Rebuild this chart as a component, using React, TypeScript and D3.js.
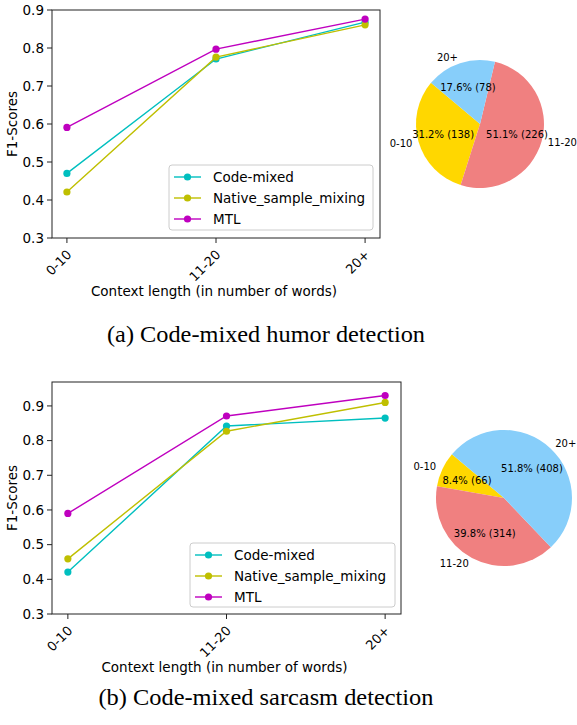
import React from "react";
import * as d3 from "d3";

const categories = ["0-10", "11-20", "20+"];
const seriesNames = ["Code-mixed", "Native_sample_mixing", "MTL"];
const seriesColors = ["#00bfbf", "#bfbf00", "#bf00bf"];

// humor detection F1
const humorCodeMixed = [0.47, 0.771, 0.868];
const humorNative = [0.421, 0.776, 0.861];
const humorMTL = [0.591, 0.797, 0.876];
const humorCounts = [138, 226, 78];

// sarcasm detection F1
const sarcCodeMixed = [0.421, 0.842, 0.865];
const sarcNative = [0.459, 0.827, 0.91];
const sarcMTL = [0.59, 0.871, 0.93];
const sarcCounts = [66, 314, 408];

const yTicks = [0.3, 0.4, 0.5, 0.6, 0.7, 0.8, 0.9];
const pieColors = ["gold", "lightcoral", "lightskyblue"];
const FONT = "DejaVu Sans, sans-serif";

type LineProps = {
  left: number; right: number; top: number; bottom: number;
  yMax: number; series: number[][]; legend: { x: number; y: number; w: number; h: number };
};

function LinePanel({ left, right, top, bottom, yMax, series, legend }: LineProps) {
  const x = d3.scaleLinear().domain([-0.1, 2.1]).range([left, right]);
  const y = d3.scaleLinear().domain([0.3, yMax]).range([bottom, top]);
  const line = d3.line<number>().x((_, i) => x(i)).y((d) => y(d));
  const rowGap = 21;
  return (
    <g fontFamily={FONT}>
      {series.map((s, k) => (
        <g key={k}>
          <path d={line(s) || ""} fill="none" stroke={seriesColors[k]} strokeWidth={1.4} />
          {s.map((v, i) => (
            <circle key={i} cx={x(i)} cy={y(v)} r={3.6} fill={seriesColors[k]} />
          ))}
        </g>
      ))}
      <rect x={left} y={top} width={right - left} height={bottom - top} fill="none" stroke="#222" strokeWidth={1} />
      {yTicks.map((t) => (
        <g key={t}>
          <line x1={left - 5} x2={left} y1={y(t)} y2={y(t)} stroke="#222" />
          <text x={left - 8} y={y(t)} dy="0.35em" textAnchor="end" fontSize={13.5}>{t.toFixed(1)}</text>
        </g>
      ))}
      {categories.map((c, i) => (
        <g key={c}>
          <line x1={x(i)} x2={x(i)} y1={bottom} y2={bottom + 5} stroke="#222" />
          <text transform={`translate(${x(i) - 1},${bottom + 11}) rotate(-45)`} textAnchor="end" dy="0.7em" fontSize={13}>{c}</text>
        </g>
      ))}
      <text x={(left + right) / 2 - 2} y={bottom + 58} textAnchor="middle" fontSize={13.5}>Context length (in number of words)</text>
      <text transform={`translate(${left - 35},${(top + bottom) / 2}) rotate(-90)`} textAnchor="middle" fontSize={13.5}>F1-Scores</text>
      <rect x={legend.x} y={legend.y} width={legend.w} height={legend.h} rx={3} fill="#fff" fillOpacity={0.8} stroke="#cccccc" />
      {seriesNames.map((n, k) => {
        const yy = legend.y + 12 + k * rowGap;
        return (
          <g key={n}>
            <line x1={legend.x + 5} x2={legend.x + 32} y1={yy} y2={yy} stroke={seriesColors[k]} strokeWidth={1.4} />
            <circle cx={legend.x + 18.5} cy={yy} r={3.6} fill={seriesColors[k]} />
            <text x={legend.x + 44} y={yy} dy="0.35em" fontSize={13.5}>{n}</text>
          </g>
        );
      })}
    </g>
  );
}

function PiePanel({ cx, cy, r, counts }: { cx: number; cy: number; r: number; counts: number[] }) {
  const start = Math.PI / 2 - (140 * Math.PI) / 180;
  const arcs = d3.pie<number>().sort(null).startAngle(start).endAngle(start - 2 * Math.PI)(counts);
  const arc = d3.arc<d3.PieArcDatum<number>>().innerRadius(0).outerRadius(r);
  const total = d3.sum(counts);
  return (
    <g transform={`translate(${cx},${cy})`} fontFamily={FONT} fontSize={10}>
      {arcs.map((a, i) => (
        <path key={i} d={arc(a) || ""} fill={pieColors[i]} />
      ))}
      {arcs.map((a, i) => {
        const m = (a.startAngle + a.endAngle) / 2;
        const lx = Math.sin(m) * r * 1.1;
        const ly = -Math.cos(m) * r * 1.1;
        const px = Math.sin(m) * r * 0.6;
        const py = -Math.cos(m) * r * 0.6;
        const pct = ((counts[i] / total) * 100).toFixed(1);
        return (
          <g key={i}>
            <text x={lx} y={ly} dy="0.35em" textAnchor={lx > 0 ? "start" : "end"}>{categories[i]}</text>
            <text x={px} y={py} dy="0.35em" textAnchor="middle">{`${pct}% (${counts[i]})`}</text>
          </g>
        );
      })}
    </g>
  );
}

export default function App() {
  return (
    <svg width={577} height={725} style={{ position: "absolute", left: 0, top: 0, background: "#fff" }}>
      <rect width={577} height={725} fill="#fff" />
      <LinePanel left={52} right={380} top={10} bottom={238} yMax={0.9}
        series={[humorCodeMixed, humorNative, humorMTL]}
        legend={{ x: 169, y: 165, w: 204, h: 65 }} />
      <PiePanel cx={480} cy={124} r={64} counts={humorCounts} />
      <text x={266} y={342} textAnchor="middle" fontFamily="Liberation Serif, serif" fontSize={24} textLength={318} lengthAdjust="spacingAndGlyphs">(a) Code-mixed humor detection</text>

      <LinePanel left={52} right={401} top={382} bottom={614} yMax={0.969}
        series={[sarcCodeMixed, sarcNative, sarcMTL]}
        legend={{ x: 190, y: 543, w: 205, h: 64 }} />
      <PiePanel cx={504} cy={498} r={68} counts={sarcCounts} />
      <text x={266} y={705} textAnchor="middle" fontFamily="Liberation Serif, serif" fontSize={24} textLength={335} lengthAdjust="spacingAndGlyphs">(b) Code-mixed sarcasm detection</text>
    </svg>
  );
}
